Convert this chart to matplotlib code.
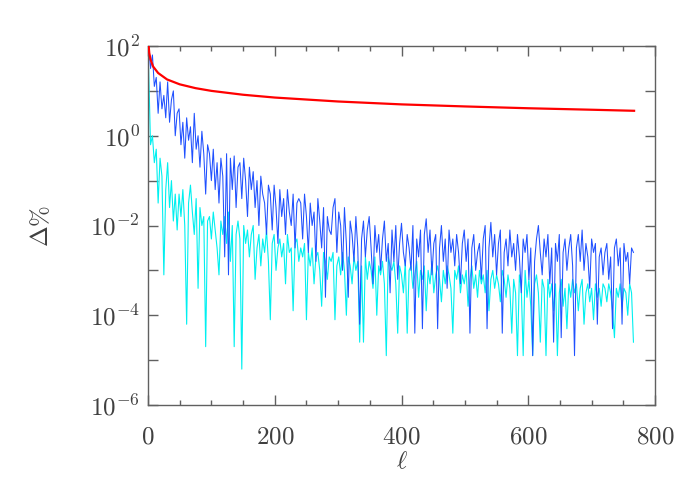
import numpy as np
import matplotlib
matplotlib.use("Agg")
import matplotlib.pyplot as plt
from matplotlib.ticker import FixedLocator, FixedFormatter, MultipleLocator, NullFormatter

plt.rcParams['mathtext.fontset'] = 'cm'
plt.rcParams['font.family'] = ['DejaVu Serif']

# multipole grid (every 3rd l)
ell = np.arange(1, 767, 3)

# log10 of Delta% for the blue series
blue_log = [
    2.0, 1.5, 1.8, 1.1, 1.3, 0.5, 1.2, 0.6, 0.9, 0.4, 1.2, 0.3, 0.8, 1.0, 0.0, 0.5,
    0.6, -0.2, 0.3, -0.5, 0.4, -0.1, 0.2, -0.6, 0.5, -0.3, 0.0, -0.7, 0.1, -0.4, -1.3, -0.2,
    -0.4, -1.0, -0.3, -1.2, -0.6, -1.5, -0.5, -0.9, -2.7, -0.4, -3.1, -0.5, -1.2, -0.45, -1.6, -0.7,
    -0.6, -1.4, -0.5, -1.0, -1.8, -0.7, -1.2, -0.8, -1.6, -1.0, -2.0, -0.9, -1.3, -1.5, -2.2, -1.1,
    -1.3, -2.1, -1.1, -1.6, -2.4, -1.2, -1.8, -1.4, -2.2, -1.2, -1.7, -2.0, -1.3, -2.5, -1.5, -1.4,
    -1.5, -2.3, -1.3, -1.8, -2.6, -1.5, -2.0, -1.7, -2.8, -1.4, -1.9, -2.5, -1.6, -3.6, -1.8, -2.1,
    -2.2, -1.6, -1.4, -2.6, -1.7, -2.0, -3.0, -1.6, -2.4, -3.6, -1.9, -2.2, -2.8, -1.8, -2.5, -4.2,
    -2.3, -1.9, -2.7, -2.1, -1.8, -2.5, -3.3, -2.0, -2.6, -2.2, -3.0, -2.3, -1.9, -2.8, -2.4, -3.5,
    -2.1, -2.8, -2.0, -3.2, -2.4, -1.95, -2.6, -2.9, -2.2, -2.5, -3.0, -2.0, -4.4, -2.3, -2.7, -2.1,
    -4.3, -2.2, -1.85, -2.6, -2.1, -3.1, -2.4, -2.2, -4.3, -2.5, -2.0, -2.8, -2.3, -3.4, -2.1, -2.6,
    -2.3, -2.9, -2.2, -2.6, -3.3, -2.4, -2.1, -2.8, -2.3, -4.4, -2.5, -2.2, -3.0, -2.6, -2.4, -3.2,
    -2.3, -2.0, -4.3, -2.5, -1.93, -2.7, -2.2, -3.1, -2.4, -2.1, -4.4, -2.6, -2.3, -2.9, -2.1, -2.7,
    -2.4, -3.0, -2.2, -2.7, -3.5, -2.3, -2.6, -2.2, -3.2, -2.5, -4.9, -2.8, -2.3, -2.0, -2.6, -3.1,
    -2.3, -2.7, -2.2, -3.3, -2.5, -4.6, -2.4, -2.8, -2.2, -4.5, -2.6, -2.3, -3.0, -2.5, -2.2, -2.9,
    -4.9, -2.5, -2.2, -2.8, -2.1, -3.0, -2.4, -2.7, -3.4, -2.3, -2.6, -2.4, -4.2, -2.7, -2.5, -3.1,
    -2.6, -2.4, -3.2, -2.7, -4.3, -2.5, -2.3, -2.9, -2.5, -4.2, -2.4, -2.8, -2.6, -3.3, -2.5, -2.6,
]

# log10 of Delta% for the cyan series
cyan_log = [
    1.5, -0.2, 0.0, -0.6, -0.3, -1.5, -0.5, -0.9, -3.1, -1.2, -0.6, -1.6, -1.0, -1.9, -1.3, -2.1,
    -1.3, -1.8, -1.2, -2.0, -4.2, -1.5, -1.1, -1.7, -2.2, -1.4, -3.4, -1.6, -2.0, -1.8, -4.7, -1.9,
    -1.8, -2.3, -1.7, -2.1, -2.5, -3.1, -1.9, -2.2, -1.8, -2.4, -1.7, -2.8, -2.0, -4.7, -2.2, -1.9,
    -2.3, -5.2, -2.0, -2.4, -2.1, -2.7, -2.2, -2.0, -3.2, -2.5, -2.2, -2.9, -2.3, -2.6, -2.1, -2.8,
    -4.1, -2.4, -2.2, -3.0, -2.5, -2.3, -2.7, -2.4, -3.3, -2.2, -2.6, -2.5, -3.9, -2.4, -2.3, -2.8,
    -2.5, -2.7, -2.4, -4.1, -2.6, -2.9, -2.5, -3.3, -2.7, -2.6, -3.0, -3.8, -2.6, -2.8, -3.2, -2.7,
    -2.8, -2.6, -4.1, -2.9, -2.7, -3.1, -2.6, -3.0, -4.0, -2.7, -2.9, -3.3, -2.7, -3.0, -2.8, -4.6,
    -2.9, -4.6, -2.7, -3.2, -2.8, -3.0, -3.4, -2.7, -4.0, -2.9, -3.1, -2.8, -3.3, -4.9, -2.7, -2.9,
    -3.0, -2.8, -3.3, -4.4, -2.9, -3.1, -3.5, -2.8, -4.4, -3.0, -2.9, -3.4, -3.1, -2.8, -3.6, -3.0,
    -3.2, -2.9, -3.9, -3.0, -3.3, -2.8, -3.5, -3.1, -2.9, -3.2, -3.7, -3.0, -3.3, -2.9, -3.1, -3.4,
    -4.4, -3.0, -3.2, -2.9, -3.5, -3.1, -3.3, -3.0, -3.8, -3.2, -2.9, -3.4, -3.1, -3.6, -3.0, -3.3,
    -3.1, -3.5, -3.0, -3.9, -3.2, -3.0, -3.4, -3.1, -3.3, -3.7, -3.0, -3.2, -3.6, -3.1, -3.4, -4.4,
    -3.2, -3.5, -4.9, -3.1, -3.4, -4.9, -3.0, -3.6, -3.2, -3.8, -4.9, -3.3, -3.1, -3.5, -4.6, -3.2,
    -3.4, -4.9, -3.2, -3.6, -3.3, -3.9, -3.3, -4.9, -3.5, -3.2, -3.8, -3.4, -4.3, -3.3, -3.6, -3.2,
    -3.5, -3.3, -3.9, -3.4, -3.2, -4.2, -3.5, -3.3, -3.7, -3.4, -4.1, -3.3, -3.6, -3.4, -3.8, -3.3,
    -3.4, -3.7, -3.3, -3.5, -3.9, -4.5, -3.4, -3.6, -3.3, -3.8, -3.4, -3.5, -4.0, -3.3, -3.5, -4.6,
]

# red smooth curve, read at a few multipoles
red_ell = [1, 2, 4, 8, 16, 30, 50, 75, 100, 150, 200, 300, 400, 500, 600, 700, 767]
red_val = [100, 70, 50, 35, 25, 18, 14, 11.5, 10, 8.2, 7.1, 5.8, 5.0, 4.5, 4.1, 3.8, 3.6]

ytick_vals = [1e2, 1e0, 1e-2, 1e-4, 1e-6]
ytick_labels = [r'$10^{2}$', r'$10^{0}$', r'$10^{-2}$', r'$10^{-4}$', r'$10^{-6}$']
xtick_vals = [0, 200, 400, 600, 800]
xtick_labels = [r'$0$', r'$200$', r'$400$', r'$600$', r'$800$']

TXT = '#404040'
fig = plt.figure(figsize=(7, 5), dpi=100)
ax = fig.add_axes([148/700, 95/500, 507/700, 359/500])

ax.plot(ell, 10.0**np.array(cyan_log), color='#00f0f0', lw=0.8, zorder=2)
ax.plot(ell, 10.0**np.array(blue_log), color='#1f50ff', lw=0.75, zorder=3)
ax.plot(red_ell, red_val, color='#ff0000', lw=1.6, zorder=4)

ax.set_yscale('log')
ax.set_xlim(0, 800)
ax.set_ylim(1e-6, 1e2)

ax.yaxis.set_major_locator(FixedLocator(ytick_vals))
ax.yaxis.set_major_formatter(FixedFormatter(ytick_labels))
ax.yaxis.set_minor_locator(FixedLocator([1e1, 1e-1, 1e-3, 1e-5]))
ax.yaxis.set_minor_formatter(NullFormatter())
ax.xaxis.set_major_locator(FixedLocator(xtick_vals))
ax.xaxis.set_major_formatter(FixedFormatter(xtick_labels))
ax.xaxis.set_minor_locator(MultipleLocator(50))

for s in ax.spines.values():
    s.set_color('#606060')
    s.set_linewidth(1.0)

ax.tick_params(axis='both', which='both', direction='in', top=True, right=True,
               colors='#606060', labelcolor=TXT, width=1.0)
ax.tick_params(axis='y', which='both', length=7.5, pad=6, labelsize=18)
ax.tick_params(axis='x', which='major', length=7.5, pad=15, labelsize=18)
ax.tick_params(axis='x', which='minor', length=3.5)

ax.set_xlabel(r'$\ell$', fontsize=18, color=TXT)
ax.set_ylabel(r'$\Delta\%$', fontsize=18, color=TXT)
ax.xaxis.set_label_coords(0.5, -0.125)
ax.yaxis.set_label_coords(-0.187, 0.5)

fig.savefig('out.png', dpi=100)
